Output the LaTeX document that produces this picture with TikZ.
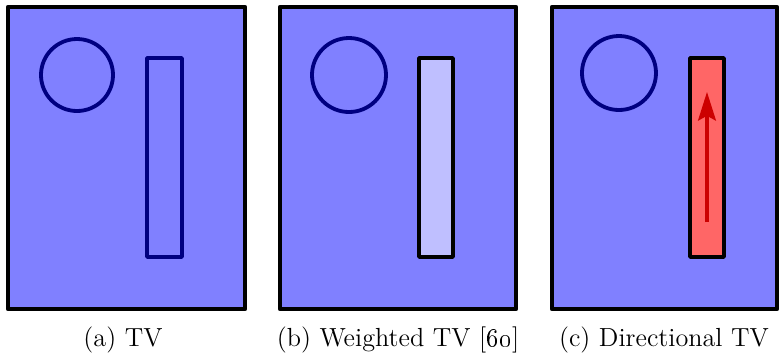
\documentclass[tikz,border=0pt]{standalone}
\usetikzlibrary{arrows.meta}

\begin{document}
\begin{tikzpicture}[
    x=0.42pt, y=-0.42pt,
    panel/.style={draw=black, fill=blue!50, line width=1.8pt, line join=round},
    blob/.style={draw=blue!50!black, line width=1.6pt},
    bar/.style={line width=1.6pt, line join=round},
    caption/.style={anchor=base, font=\fontsize{11}{13}\selectfont},
    flow/.style={-{Stealth[length=12pt, width=7.5pt, inset=2pt]}, draw=red!80!black, line width=1.3pt}
]
\useasboundingbox (0,0) rectangle (779,352);

% (a) plain TV
\draw[panel] (8,7) rectangle (245,309);
\draw[blob] (77,75) circle[radius=36];
\draw[blob, bar] (147,58) rectangle (182,257);
\node[caption] (capa) at (123,346) {(a) TV};

% (b) weighted TV
\draw[panel] (280,7) rectangle (516,309);
\draw[blob] (349,75) circle[radius=37];
\draw[bar, draw=black, fill=blue!25] (419,58) rectangle (453,257);
\node[caption] (capb) at (398,346) {(b) Weighted TV [\oldstylenums{60}]};

% (c) directional TV
\draw[panel] (552,7) rectangle (777,309);
\draw[blob] (619,73) circle[radius=37];
\draw[bar, draw=black, fill=red!60] (690,58) rectangle (724,257);
\coordinate (tail) at (707,222);
\coordinate (head) at (707,92);
\draw[flow] (tail) -- (head);
\node[caption] (capc) at (664,346) {(c) Directional TV};

\end{tikzpicture}
\end{document}
